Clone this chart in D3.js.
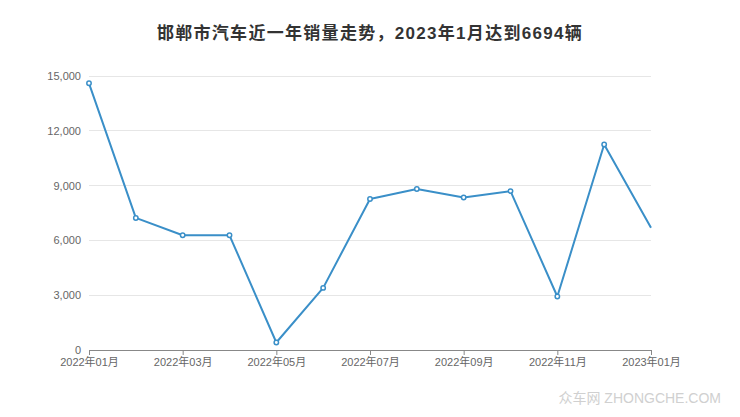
<!DOCTYPE html>
<html><head><meta charset="utf-8">
<script src="https://cdn.jsdelivr.net/npm/d3@7"></script>
<style>body{margin:0;background:#fff}svg{display:block}</style>
</head><body>
<svg id="c" width="740" height="417"></svg>
<script>
const months = ["2022-01","2022-02","2022-03","2022-04","2022-05","2022-06","2022-07","2022-08","2022-09","2022-10","2022-11","2022-12","2023-01"];
const sales = [14600,7230,6280,6280,410,3400,8270,8810,8350,8700,2930,11250,6694];
const yTicks = [0,3000,6000,9000,12000,15000];
const xTickLabels = ["2022年01月","2022年03月","2022年05月","2022年07月","2022年09月","2022年11月","2023年01月"];
const title = "邯郸市汽车近一年销量走势，2023年1月达到6694辆";

const svg = d3.select("#c");
const font = "'Liberation Sans','Noto Sans CJK SC',sans-serif";
const m = {l:89, r:651, t:76, b:350};
const x = d3.scalePoint().domain(months).range([m.l, m.r]);
const y = d3.scaleLinear().domain([0,15000]).range([m.b, m.t]);

svg.append("text").attr("x",370).attr("y",39).attr("text-anchor","middle")
  .attr("font-family",font).attr("font-size",17).attr("letter-spacing",1.3)
  .attr("font-weight","bold").attr("fill","#333").text(title);

// grid
svg.append("g").selectAll("line").data(yTicks.filter(d=>d>0)).join("line")
  .attr("x1",m.l).attr("x2",m.r).attr("y1",d=>y(d)).attr("y2",d=>y(d))
  .attr("stroke","#e6e6e6").attr("stroke-width",1).attr("shape-rendering","crispEdges");

// y axis labels
const ya = svg.append("g").attr("transform",`translate(${m.l},0)`)
  .call(d3.axisLeft(y).tickValues(yTicks).tickSize(0).tickPadding(8).tickFormat(d3.format(",")));
ya.select(".domain").remove();
ya.selectAll("text").attr("font-family",font).attr("font-size",11).attr("fill","#666");

// x axis
const xTickVals = months.filter((d,i)=>i%2===0);
const xa = svg.append("g").attr("transform",`translate(0,${m.b})`)
  .call(d3.axisBottom(x).tickValues(xTickVals).tickSize(5).tickSizeOuter(0).tickPadding(3)
    .tickFormat((d,i)=>xTickLabels[i]));
xa.select(".domain").attr("stroke","#888");
xa.selectAll(".tick line").attr("stroke","#888");
xa.selectAll("text").attr("font-family",font).attr("font-size",11).attr("fill","#666");

// line
const data = months.map((d,i)=>({m:d,v:sales[i]}));
svg.append("path").datum(data)
  .attr("d", d3.line().x(d=>x(d.m)).y(d=>y(d.v)))
  .attr("fill","none").attr("stroke","#3a8fc8").attr("stroke-width",2).attr("stroke-linejoin","round");

svg.append("g").selectAll("circle").data(data.slice(0,-1)).join("circle")
  .attr("cx",d=>x(d.m)).attr("cy",d=>y(d.v)).attr("r",2.2)
  .attr("fill","#fff").attr("stroke","#3a8fc8").attr("stroke-width",1.5);

// watermark
svg.append("text").attr("x",721).attr("y",403).attr("text-anchor","end")
  .attr("font-family",font).attr("font-size",14).attr("fill","#d0d0d0").text("众车网 ZHONGCHE.COM");
</script>
</body></html>
